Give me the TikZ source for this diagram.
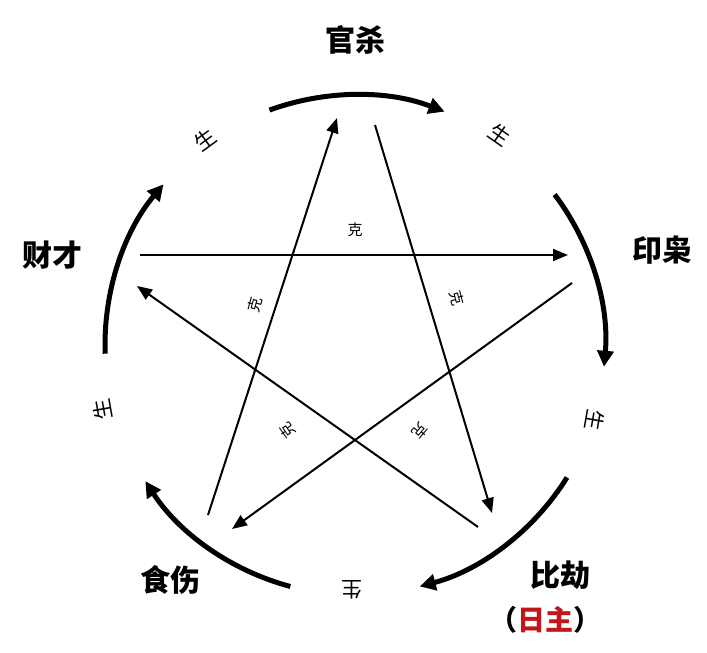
\documentclass[tikz,border=0pt]{standalone}
\usepackage{fontspec}
\newfontfamily\cjk{Noto Sans CJK SC}
\usetikzlibrary{arrows.meta,calc}
\begin{document}
\begin{tikzpicture}[x=1pt,y=1pt,
  big/.style={font=\cjk\fontsize{30}{30}\selectfont\bfseries},
  sheng/.style={font=\cjk\fontsize{21}{21}\selectfont},
  ke/.style={font=\cjk\fontsize{15}{15}\selectfont},
  arc/.style={line width=5pt,-{Triangle[length=16pt,width=16pt]}},
  ln/.style={line width=2pt,-{Triangle[length=15pt,width=12pt]}}]
\useasboundingbox (0,0) rectangle (707,653);
\fill[white] (0,0) rectangle (707,653);
\coordinate (c) at (355,308);
\node[big] (gs) at (355,613) {官杀};
\node[big] (yx) at (662,403) {印枭};
\node[big] (bj) at (560,78) {比劫};
\node[font=\cjk\fontsize{28}{28}\selectfont\bfseries] (rz) at (545,33) {（\textcolor[HTML]{C0161C}{日主}）};
\node[big] (ss) at (170,73) {食伤};
\node[big] (cc) at (52,398) {财才};
\foreach \a/\b in {110/69,37/-5,-32/-75,-105/-147,182/140}
  \draw[arc] ($(c)+(\a:250)$) arc[start angle=\a,end angle=\b,radius=250];
\node[sheng,rotate=36] (s1) at (205,513) {生};
\node[sheng,rotate=-35] (s2) at (500,518) {生};
\node[sheng,rotate=-100] (s3) at (595,233) {生};
\node[sheng,rotate=180] (s4) at (352,63) {生};
\node[sheng,rotate=100] (s5) at (102,243) {生};
\coordinate (a1) at (140,398); \coordinate (b1) at (568,398);
\coordinate (a2) at (375,126); \coordinate (b2) at (492,140);
\coordinate (a3) at (572,370); \coordinate (b3) at (232,124);
\coordinate (a4) at (478,126); \coordinate (b4) at (137,367);
\coordinate (a5) at (208,138); \coordinate (b5) at (337,535);
\draw[ln] (a1) -- (b1);
\draw[ln] ($(a2)+(0,402)$) -- (b2);
\draw[ln] (a3) -- (b3);
\draw[ln] (a4) -- (b4);
\draw[ln] (a5) -- (b5);
\node[ke] (k1) at (355,423) {克};
\node[ke,rotate=-75] (k2) at (457,355) {克};
\node[ke,rotate=-130] (k3) at (420,222) {克};
\node[ke,rotate=125] (k4) at (288,222) {克};
\node[ke,rotate=75] (k5) at (255,348) {克};
\end{tikzpicture}
\end{document}
